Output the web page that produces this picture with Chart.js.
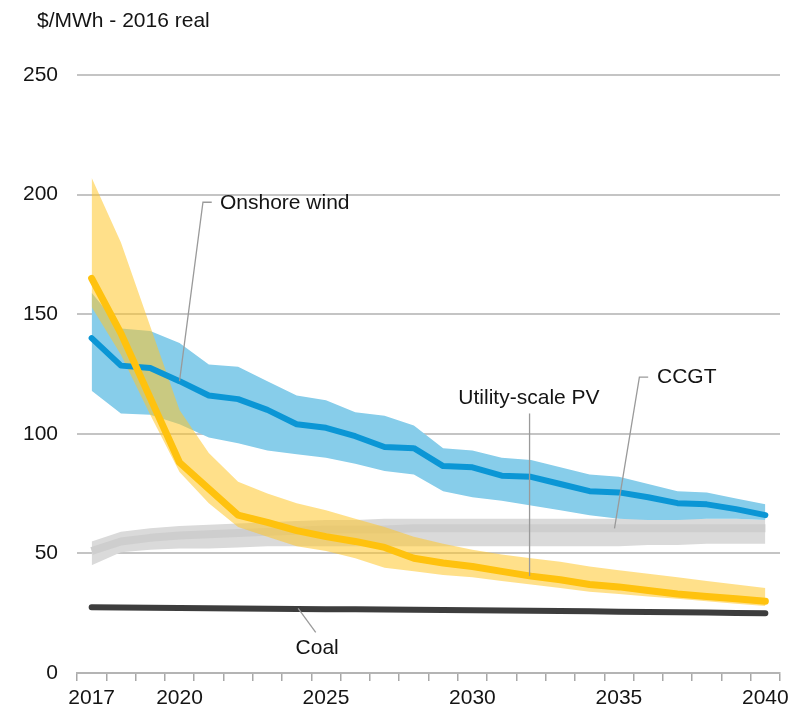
<!DOCTYPE html>
<html>
<head>
<meta charset="utf-8">
<script src="https://cdn.jsdelivr.net/npm/chart.js@4.4.1/dist/chart.umd.min.js"></script>
<style>
  html, body { margin: 0; padding: 0; background: #fff; }
</style>
</head>
<body>
<canvas id="lcoeChart" width="800" height="710"></canvas>
<script>
// Data, $/MWh 2016 real
const years = [2017, 2018, 2019, 2020, 2021, 2022, 2023, 2024, 2025, 2026, 2027, 2028,
               2029, 2030, 2031, 2032, 2033, 2034, 2035, 2036, 2037, 2038, 2039, 2040];
const shownYears = [2017, 2020, 2025, 2030, 2035, 2040];
const yTicks = [0, 50, 100, 150, 200, 250];

const windMid  = [140, 128.5, 127.5, 122, 116, 114.5, 110, 104, 102.5, 99, 94.5, 94, 86.5, 86, 82.5, 82, 79, 76, 75.5, 73.5, 71, 70.5, 68.5, 66];
const windHigh = [159, 144, 143, 138, 129, 128, 122, 116, 114, 109, 107.5, 103.5, 94, 93, 90, 89, 86, 83, 82, 79, 76, 75.5, 73, 70.5];
const windLow  = [118, 108.5, 108, 104, 98.5, 96, 93, 91.5, 90, 87.5, 84.5, 83, 76, 73.5, 72, 70, 68, 66, 64.5, 64, 64, 64.5, 64.5, 64];

const pvMid  = [165, 142, 115, 88, 77, 66, 63, 59.5, 57, 55, 52.5, 48, 46, 44.5, 42.5, 40.5, 39, 37, 36, 34.5, 33, 32, 31, 30];
const pvHigh = [207, 180, 145, 110, 92, 80, 75, 71, 68, 64.5, 61, 57, 54, 51.5, 49.5, 48, 46.5, 44.5, 43, 41.5, 40, 38.5, 37, 35.5];
const pvLow  = [153, 133, 108, 84, 71, 61, 57, 53, 51, 48, 44, 42.5, 41, 40, 38.5, 37, 35.5, 34, 33, 32, 31, 30, 29, 28];

const ccgtMid  = [51, 55, 56.5, 57.5, 58, 58.5, 59, 59.5, 60, 60, 60, 60.5, 60.5, 60.5, 60.5, 60.5, 60.5, 60.5, 60.5, 60.5, 60.5, 60.5, 60.5, 60.5];
const ccgtHigh = [55, 59, 60.5, 61.5, 62, 62.5, 63, 63.5, 64, 64, 64.5, 64.5, 64.5, 64.5, 64.5, 64.5, 64.5, 64.5, 64.5, 64.5, 64.5, 64.5, 64.5, 64];
const ccgtLow  = [45, 50.5, 51.5, 52, 52, 52.5, 53, 53, 53, 53, 53, 53, 53, 53, 53, 53, 53, 53, 53, 53.5, 53.5, 54, 54, 54];

const coal = [27.5, 27.4, 27.3, 27.2, 27.1, 27, 26.9, 26.8, 26.7, 26.6, 26.5, 26.4, 26.3, 26.2, 26.1, 26, 25.9, 25.8, 25.6, 25.5, 25.4, 25.3, 25.1, 25];

// Labels with leader lines, in data space (x = index into years)
const notes = [
    { text: 'Onshore wind', at: [4.38, 196.5], align: 'left', leader: [[4.1, 196.8], [3.8, 196.8], [3.0, 122]] },
    { text: 'Utility-scale PV', at: [14.93, 115], align: 'center', leader: [[14.95, 108.5], [14.95, 40.5]] },
    { text: 'CCGT', at: [19.3, 123.7], align: 'left', leader: [[19.0, 123.7], [18.7, 123.7], [17.85, 60.5]] },
    { text: 'Coal', at: [7.7, 10.5], align: 'center', leader: [[7.05, 27], [7.65, 17]] }
];

const FONT = '"Liberation Sans", Arial, sans-serif';
const TEXT = '#141414';

function edge(data, order) {
    return { data: data, borderColor: 'rgba(0,0,0,0)', borderWidth: 0, pointRadius: 0, fill: false, order: order };
}
function band(data, color, order) {
    return { data: data, borderColor: 'rgba(0,0,0,0)', borderWidth: 0, pointRadius: 0, fill: '-1', backgroundColor: color, order: order };
}
function line(data, color, width, order, cap) {
    return { data: data, borderColor: color, borderWidth: width, pointRadius: 0, fill: false,
             borderCapStyle: cap || 'round', borderJoinStyle: 'round', order: order };
}

const notesPlugin = {
    id: 'notes',
    afterDatasetsDraw(chart) {
        const ctx = chart.ctx;
        const xs = chart.scales.x, ys = chart.scales.y;
        const px = v => xs.getPixelForValue(v);
        const py = v => ys.getPixelForValue(v);
        ctx.save();
        ctx.strokeStyle = '#9a9a9a';
        ctx.lineWidth = 1.3;
        notes.forEach(n => {
            ctx.beginPath();
            n.leader.forEach((p, i) => {
                if (i === 0) ctx.moveTo(px(p[0]), py(p[1]));
                else ctx.lineTo(px(p[0]), py(p[1]));
            });
            ctx.stroke();
        });
        ctx.fillStyle = TEXT;
        ctx.font = '21px ' + FONT;
        ctx.textBaseline = 'middle';
        notes.forEach(n => {
            ctx.textAlign = n.align;
            ctx.fillText(n.text, px(n.at[0]), py(n.at[1]));
        });
        // unit caption
        ctx.textAlign = 'left';
        ctx.fillText('$/MWh - 2016 real', 37, 21);
        ctx.restore();
    }
};

const ctx = document.getElementById('lcoeChart').getContext('2d');
const lcoeChart = new Chart(ctx, {
    type: 'line',
    data: {
        labels: years,
        datasets: [
            edge(ccgtLow, 30),
            band(ccgtHigh, '#dadada', 29),
            line(ccgtMid, '#cecece', 8, 28, 'butt'),
            edge(windLow, 27),
            band(windHigh, '#87cdea', 26),
            edge(pvLow, 25),
            band(pvHigh, 'rgba(255,199,42,0.55)', 24),
            line(coal, '#3d3d3d', 6, 23),
            line(windMid, '#0b96d5', 6, 22),
            line(pvMid, '#ffc20e', 7, 21)
        ]
    },
    options: {
        responsive: false,
        animation: false,
        layout: { padding: { top: 75, right: 20, left: 0, bottom: 0 } },
        plugins: {
            legend: { display: false },
            tooltip: { enabled: false }
        },
        elements: { line: { tension: 0 } },
        scales: {
            x: {
                type: 'category',
                offset: true,
                afterFit(scale) { scale.height = 37; },
                grid: { drawOnChartArea: false, drawTicks: true, tickLength: 8, color: '#a8a8a8', lineWidth: 1.5, offset: true },
                border: { color: '#b4b4b4', width: 2 },
                ticks: {
                    autoSkip: false,
                    maxRotation: 0,
                    padding: 5,
                    color: TEXT,
                    font: { family: FONT, size: 21 },
                    callback: function (val, i) {
                        return shownYears.includes(years[i]) ? String(years[i]) : '';
                    }
                }
            },
            y: {
                min: yTicks[0],
                max: yTicks[yTicks.length - 1],
                afterFit(scale) { scale.width = 77; },
                afterBuildTicks(scale) { scale.ticks = yTicks.map(v => ({ value: v })); },
                grid: { drawTicks: false, color: '#c4c4c4', lineWidth: 2 },
                border: { display: false },
                ticks: {
                    padding: 19,
                    color: TEXT,
                    font: { family: FONT, size: 21 }
                }
            }
        }
    },
    plugins: [notesPlugin]
});
</script>
</body>
</html>
